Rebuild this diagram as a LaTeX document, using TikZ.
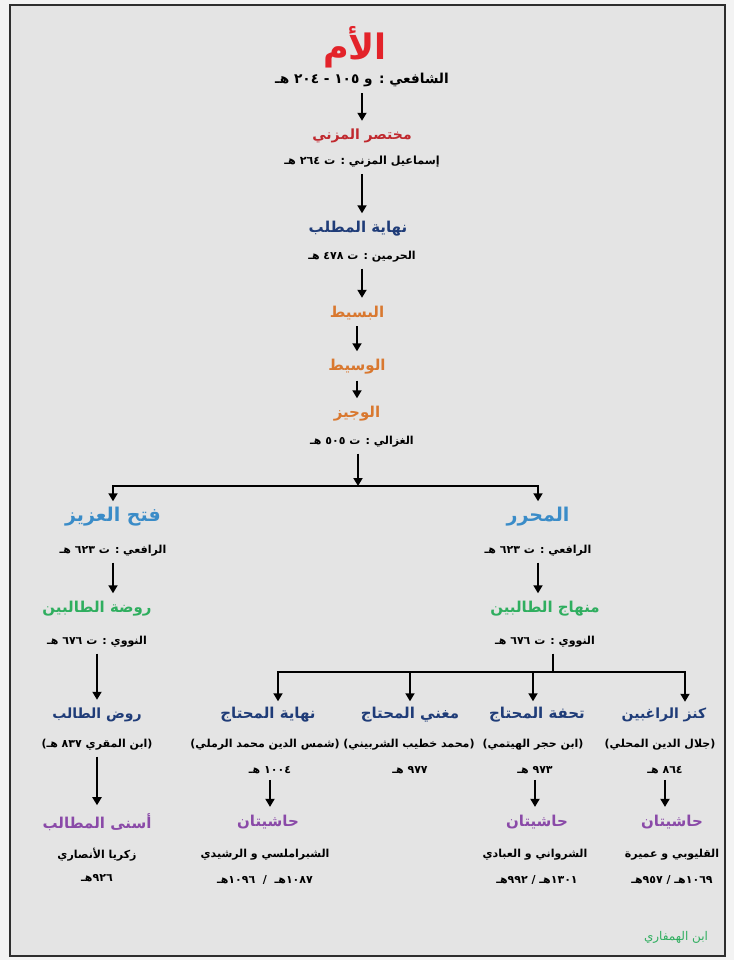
\documentclass[tikz,border=0pt]{standalone}
\usepackage{fontspec}
\usepackage{tikz}
\usetikzlibrary{arrows.meta}

\TeXXeTstate=1
\newfontfamily\arabicfont[Script=Arabic]{DejaVu Sans}
\newcommand{\rtl}[1]{\beginR #1\endR}

\definecolor{pagegray}{HTML}{F3F3F3}
\definecolor{boxgray}{HTML}{E4E4E4}
\definecolor{framegray}{HTML}{2E2E2E}
\definecolor{ummred}{HTML}{E3232A}
\definecolor{darkred}{HTML}{C0282E}
\definecolor{navy}{HTML}{1F3C78}
\definecolor{amber}{HTML}{D9782F}
\definecolor{skyblue}{HTML}{3A8CC8}
\definecolor{leafgreen}{HTML}{2FAE5F}
\definecolor{violet}{HTML}{8A4AA8}

\begin{document}
\begin{tikzpicture}[x=1pt, y=-1pt,
    ttl/.style={inner sep=1pt, font=\arabicfont\bfseries\fontsize{15}{18}\selectfont},
    sub/.style={inner sep=1pt, font=\arabicfont\bfseries\fontsize{11}{14}\selectfont},
    arr/.style={line width=1.8pt, -{Triangle[length=8pt,width=9pt]}, shorten <=5pt, shorten >=7pt},
    lnk/.style={line width=1.8pt}]
    \useasboundingbox (0, 0) rectangle (734, 960);
    \fill[pagegray] (0, 0) rectangle (734, 960);
    \filldraw[fill=boxgray, draw=framegray, line width=1.6pt] (10, 5) rectangle (725, 956);

    % main trunk
    \node[ttl, ummred, font=\arabicfont\bfseries\fontsize{35}{40}\selectfont] (umm) at (355, 47) {\rtl{الأم}};
    \node[sub, font=\arabicfont\bfseries\fontsize{13.7}{16}\selectfont] (shafii) at (362, 80) {\rtl{الشافعي : و ١٠٥ - ٢٠٤ هـ}};
    \node[ttl, darkred, font=\arabicfont\bfseries\fontsize{14}{17}\selectfont] (mukhtasar) at (362, 136) {\rtl{مختصر المزني}};
    \node[sub, font=\arabicfont\bfseries\fontsize{11.2}{14}\selectfont] (muzani) at (362, 162) {\rtl{إسماعيل المزني : ت ٢٦٤ هـ}};
    \node[ttl, navy] (nihayatmatlab) at (358, 229) {\rtl{نهاية المطلب}};
    \node[sub] (haramayn) at (362, 257) {\rtl{الحرمين : ت ٤٧٨ هـ}};
    \node[ttl, amber] (basit) at (357, 313) {\rtl{البسيط}};
    \node[ttl, amber] (wasit) at (357, 367) {\rtl{الوسيط}};
    \node[ttl, amber] (wajiz) at (357, 414) {\rtl{الوجيز}};
    \node[sub] (ghazali) at (362, 442) {\rtl{الغزالي : ت ٥٠٥ هـ}};
    \coordinate (split1) at (358, 486);

    % left branch
    \node[ttl, skyblue, font=\arabicfont\bfseries\fontsize{19}{22}\selectfont] (fath) at (113, 517) {\rtl{فتح العزيز}};
    \node[sub] (rafiiL) at (113, 551) {\rtl{الرافعي : ت ٦٢٣ هـ}};
    \node[ttl, leafgreen] (rawda) at (97, 609) {\rtl{روضة الطالبين}};
    \node[sub] (nawawiL) at (97, 642) {\rtl{النووي : ت ٦٧٦ هـ}};
    \node[ttl, navy, font=\arabicfont\bfseries\fontsize{14}{17}\selectfont] (rawd) at (97, 715) {\rtl{روض الطالب}};
    \node[sub] (muqri) at (97, 745) {\rtl{(ابن المقري ٨٣٧ هـ)}};
    \node[ttl, violet] (asna) at (97, 822) {\rtl{أسنى المطالب}};
    \node[sub] (zakariya) at (97, 855) {\rtl{زكريا الأنصاري}};
    \node[sub] (zakariyaY) at (97, 878) {\rtl{٩٢٦هـ}};

    % right branch
    \node[ttl, skyblue, font=\arabicfont\bfseries\fontsize{19}{22}\selectfont] (muharrar) at (538, 517) {\rtl{المحرر}};
    \node[sub] (rafiiR) at (538, 551) {\rtl{الرافعي : ت ٦٢٣ هـ}};
    \node[ttl, leafgreen] (minhaj) at (545, 609) {\rtl{منهاج الطالبين}};
    \node[sub] (nawawiR) at (545, 642) {\rtl{النووي : ت ٦٧٦ هـ}};
    \coordinate (split2) at (553, 672);

    \node[ttl, navy] (nihayatmuhtaj) at (268, 715) {\rtl{نهاية المحتاج}};
    \node[sub] (ramli) at (265, 745) {\rtl{(شمس الدين محمد الرملي)}};
    \node[sub] (ramliY) at (270, 770) {\rtl{١٠٠٤ هـ}};
    \node[ttl, navy] (mughni) at (410, 715) {\rtl{مغني المحتاج}};
    \node[sub] (shirbini) at (409, 745) {\rtl{(محمد خطيب الشربيني)}};
    \node[sub] (shirbiniY) at (410, 770) {\rtl{٩٧٧ هـ}};
    \node[ttl, navy] (tuhfa) at (537, 715) {\rtl{تحفة المحتاج}};
    \node[sub] (haytami) at (533, 745) {\rtl{(ابن حجر الهيتمي)}};
    \node[sub] (haytamiY) at (535, 770) {\rtl{٩٧٣ هـ}};
    \node[ttl, navy, font=\arabicfont\bfseries\fontsize{14}{17}\selectfont] (kanz) at (664, 715) {\rtl{كنز الراغبين}};
    \node[sub] (mahalli) at (660, 745) {\rtl{(جلال الدين المحلي)}};
    \node[sub] (mahalliY) at (665, 770) {\rtl{٨٦٤ هـ}};

    \node[ttl, violet] (hashA) at (268, 822) {\rtl{حاشيتان}};
    \node[sub] (hashAnames) at (265, 855) {\rtl{الشبراملسي و الرشيدي}};
    \node[sub] (hashAyears) at (265, 880) {\rtl{١٠٨٧هـ \ / \ ١٠٩٦هـ}};
    \node[ttl, violet] (hashB) at (537, 822) {\rtl{حاشيتان}};
    \node[sub] (hashBnames) at (535, 855) {\rtl{الشرواني و العبادي}};
    \node[sub] (hashByears) at (537, 880) {\rtl{١٣٠١هـ / ٩٩٢هـ}};
    \node[ttl, violet] (hashC) at (672, 822) {\rtl{حاشيتان}};
    \node[sub] (hashCnames) at (672, 855) {\rtl{القليوبي و عميرة}};
    \node[sub] (hashCyears) at (672, 880) {\rtl{١٠٦٩هـ / ٩٥٧هـ}};

    \node[leafgreen, inner sep=1pt, font=\arabicfont\fontsize{12}{15}\selectfont] (signature) at (676, 937) {\rtl{ابن الهمفاري}};

    % arrows
    \draw[arr] (shafii.south) -- (shafii.south |- mukhtasar.north);
    \draw[arr] (muzani.south) -- (muzani.south |- nihayatmatlab.north);
    \draw[arr] (haramayn.south) -- (haramayn.south |- basit.north);
    \draw[arr] (basit.south) -- (basit.south |- wasit.north);
    \draw[arr] (wasit.south) -- (wasit.south |- wajiz.north);
    \draw[arr, shorten >=0pt] (ghazali.south -| split1) -- (split1);
    \draw[arr, shorten <=0pt, shorten >=5pt] (split1) -| (fath.north);
    \draw[arr, shorten <=0pt, shorten >=5pt] (split1) -| (muharrar.north);

    \draw[arr] (rafiiL.south) -- (rafiiL.south |- rawda.north);
    \draw[arr] (nawawiL.south) -- (nawawiL.south |- rawd.north);
    \draw[arr] (muqri.south) -- (muqri.south |- asna.north);

    \draw[arr] (rafiiR.south) -- (rafiiR.south |- minhaj.north);
    \draw[lnk, shorten <=5pt] (nawawiR.south -| split2) -- (split2);
    \draw[arr, shorten <=0pt, shorten >=5pt] (split2) -| ([xshift=10pt]nihayatmuhtaj.north);
    \draw[arr, shorten <=0pt, shorten >=5pt] (split2) -| (mughni.north);
    \draw[arr, shorten <=0pt, shorten >=5pt] (split2) -| ([xshift=-4pt]tuhfa.north);
    \draw[arr, shorten <=0pt, shorten >=5pt] (split2) -| ([xshift=21pt]kanz.north);

    \draw[arr] (ramliY.south) -- (ramliY.south |- hashA.north);
    \draw[arr] (haytamiY.south) -- (haytamiY.south |- hashB.north);
    \draw[arr] (mahalliY.south) -- (mahalliY.south |- hashC.north);
\end{tikzpicture}
\end{document}
